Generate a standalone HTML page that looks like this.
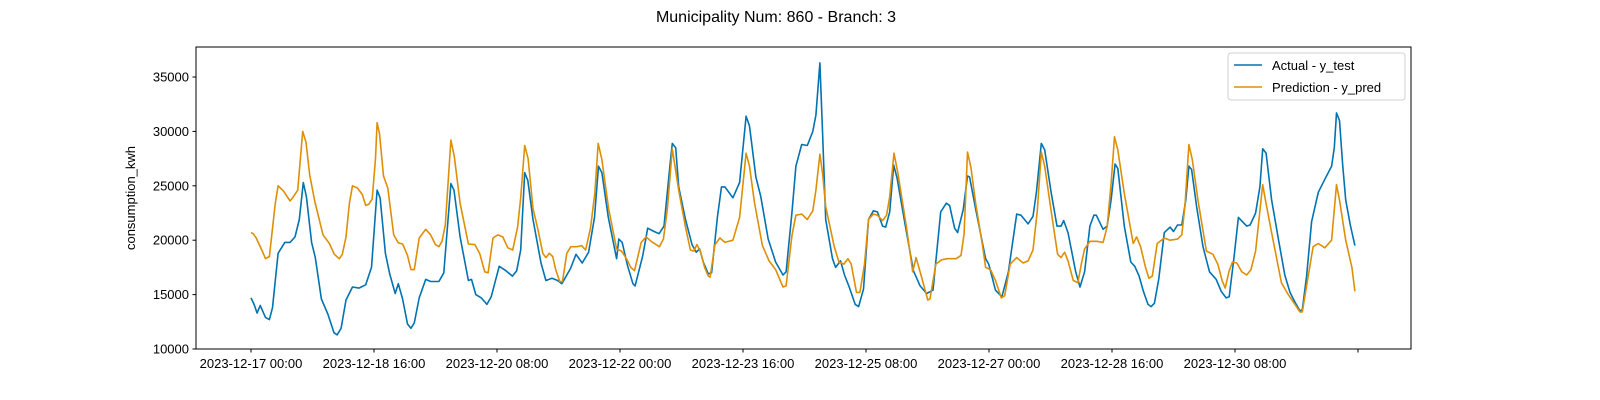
<!DOCTYPE html>
<html>
<head>
<meta charset="utf-8">
<style>
  html,body{margin:0;padding:0;background:#fff;overflow:hidden;width:1600px;height:400px;}
  svg{display:block;font-family:"Liberation Sans","DejaVu Sans",sans-serif;}
</style>
</head>
<body>
<svg id="chart" width="1600" height="400" viewBox="0 0 1600 400">
  <rect x="0" y="0" width="1600" height="400" fill="#ffffff"/>
  <text x="776" y="22" text-anchor="middle" font-size="16" fill="#000">Municipality Num: 860 - Branch: 3</text>
  <g id="ticks"></g>
  <g id="plot"></g>
  <rect x="196" y="47" width="1215" height="302" fill="none" stroke="#000" stroke-width="1"/>
  <text transform="translate(135,198) rotate(-90)" text-anchor="middle" font-size="13" fill="#000">consumption_kwh</text>
  <g>
    <rect x="1228" y="53" width="177" height="47" rx="3" fill="#fff" stroke="#d0d0d0" stroke-width="1"/>
    <line x1="1234" y1="65" x2="1262" y2="65" stroke="#0173b2" stroke-width="1.6"/>
    <text x="1272" y="70" font-size="13" fill="#000">Actual - y_test</text>
    <line x1="1234" y1="87" x2="1262" y2="87" stroke="#de8f05" stroke-width="1.6"/>
    <text x="1272" y="92" font-size="13" fill="#000">Prediction - y_pred</text>
  </g>
</svg>
<script>
const yTicks = [10000, 15000, 20000, 25000, 30000, 35000];
const xTickHours = [0, 40, 80, 120, 160, 200, 240, 280, 320, 360];
const xTickLabels = ["2023-12-17 00:00","2023-12-18 16:00","2023-12-20 08:00","2023-12-22 00:00","2023-12-23 16:00","2023-12-25 08:00","2023-12-27 00:00","2023-12-28 16:00","2023-12-30 08:00",""];

const actHours = [0,1,2,3,4.7,6,7,8.8,11,12.7,14.3,15.7,17,18,19.7,20.9,22.9,25,27,28,29.3,30.9,33,35.1,37.3,39.2,41,42,43.7,45.1,46.9,47.9,49.3,50.9,52,53.1,54.7,56.8,58.4,61.1,62.7,65,66,68,70.7,71.7,73.1,74.9,76.7,78.1,80.7,82.9,85,86.4,87.7,89,90,91.7,94.3,95.9,97.9,99.7,101.1,103.9,105.7,107.7,109.8,111.7,113,114.1,116.2,118.9,119.6,120.7,122.4,124.2,124.9,127.4,129,131.1,132.7,134.3,136.3,137,138.1,139.1,141.3,143.4,144.8,145.9,147.1,148.7,149.8,151.7,153,154.1,156.7,158.9,161,162.1,164.2,165.8,168.2,170.6,173,174,175.9,177.2,179.1,180.9,182.7,183.7,185,185.9,186.9,189.1,190.1,191.7,193,194.4,196.5,197.6,199.2,200.8,202.4,203.7,205.4,206.4,207.7,209,210.1,212.8,215.4,217.6,219.7,221.8,224.3,226.1,227.2,228.8,229.8,231.6,233,233.7,235.7,238.9,239.9,242.1,244.2,246.3,249,250.4,252.7,254.3,255.4,257,258.1,260.2,262.1,263.4,264.3,265.7,268.2,269.6,271.1,272.8,274.1,274.9,277.1,278.4,279.7,281,281.9,284,286.1,287.4,288.8,290.2,291.7,292.7,293.8,295.2,297,298.9,300,301.3,302.7,304,305,305.9,307.5,309.6,311.7,313.9,315.5,317.1,318.1,319.7,321.1,323.8,324.9,326.7,328.1,329,330.1,331.9,334.1,336.2,337.9,339.5,341.1,341.9,343.3,344.9,347.1,349.2,351.4,352.3,353,354,355,356,357.5,359];
const actValues = [14700,14100,13300,14000,12900,12700,13800,18800,19800,19800,20300,21900,25300,24000,19800,18400,14600,13200,11500,11300,11900,14500,15700,15600,15900,17500,24600,23900,18800,16900,15100,16000,14600,12300,11900,12400,14700,16400,16200,16200,17000,25200,24600,20300,16300,16400,15000,14700,14100,14800,17600,17200,16700,17200,19100,26200,25500,21900,17900,16300,16500,16300,16000,17400,18700,17900,18900,22100,26800,26200,22100,18300,20100,19800,17700,16000,15800,18600,21100,20800,20600,21300,27000,28900,28500,24900,21900,19600,18900,19200,18000,16900,17000,22200,24900,24900,23900,25300,31400,30500,25800,24000,20100,18000,16800,17100,22500,26800,28800,28700,30000,31500,36300,29800,21900,18300,17500,18100,16800,15800,14100,13900,15500,21900,22700,22600,21300,21200,22600,26900,25700,21300,17200,15800,15100,15400,22600,23400,23200,21100,20700,22800,25900,25800,22800,18300,17800,15400,14800,17100,22400,22300,21500,22200,24400,28900,28300,24400,21300,21300,21800,20700,17100,15700,17100,21300,22300,22300,21000,21300,23700,27000,26600,21300,18000,17600,16700,15300,14100,13900,14200,16400,20700,21200,20800,21400,21400,23700,26800,26500,23100,19400,17100,16400,15300,14700,14800,18500,22100,21300,21400,22500,24900,28400,28000,23700,20100,16800,15200,14300,13500,13600,16700,21700,24400,25600,26800,28500,31700,31000,27000,23700,21400,19500];

const predHours = [0,0.7,1.7,3.5,4.7,6,7.9,8.8,10.6,12.7,13.8,15.2,16.8,17.9,19.1,20.7,23.4,25.5,27.1,28.7,29.7,30.9,32,33,34.6,36.2,37.3,38.3,39.4,40.5,41,41.8,43.1,44.5,46.4,47.9,49.3,50.9,52,53.1,54.7,56.8,58.4,60,61.1,62.1,63.2,65,66.1,68,70.7,72.8,74.4,76,77.1,78.7,80.3,81.9,83.5,85.1,86.7,87.7,89,90.1,91.7,93.3,94.9,95.9,97,98.1,99.1,100.4,101.3,102.7,104,106.1,107.5,108.8,110.4,111.8,112.9,114.1,116.3,118.9,120.5,122.1,123.5,124.7,126.9,128.5,130.1,132.8,134.1,135.4,137,139.1,141.3,142.9,144,145,146.1,147.5,148.7,149.3,150.9,152.5,154.1,156.7,158.9,161,162.1,163.7,166.3,168.5,170.6,173,174,175.9,177.2,179.1,180.9,182.7,183.7,185,185.9,186.9,189.6,191.2,192.8,194.1,195.2,196.9,198,199.5,200.8,202.4,203.7,205.4,206.7,207.7,209.1,210.4,213.1,215.2,216.3,217.9,220.1,220.8,222.7,224.6,226.4,229.3,230.9,231.9,233,234.1,235.7,237.8,238.9,240.5,242.1,244,245.1,246.9,249,251.1,252.7,254.3,255.7,257,258.1,260.2,262.3,263.4,264.6,265.7,267.4,268.9,270,271.1,272.8,275.1,277.1,278.4,279.7,280.8,281.9,284,286.9,288,289.3,290.9,292,293.1,294.7,297,298.9,301.3,302.7,303.7,305,306.1,308,310.7,312.8,314.4,315.8,316.8,318.1,319.2,320.6,322.2,323.8,325.2,326.7,329,329.9,331.9,335.1,337.3,339.5,341.1,341.9,343.3,345.4,347.1,349.2,351.4,353,354,356,358,359];
const predValues = [20700,20600,20200,19100,18300,18500,23400,25000,24500,23600,24000,24600,30000,29000,26000,23600,20500,19700,18700,18300,18700,20300,23400,25000,24800,24200,23200,23300,23800,27500,30800,29800,25900,24800,20500,19750,19650,18600,17300,17300,20200,21000,20500,19600,19400,19900,21400,29200,27700,23400,19650,19600,18750,17100,17000,20200,20500,20300,19300,19100,21200,23900,28700,27500,22900,21000,18800,18400,18800,18500,17300,16200,16200,18800,19400,19400,19500,19100,21100,24300,28900,27400,22900,19200,19000,18300,17500,17200,19800,20300,19900,19400,20100,22900,28400,24600,21200,19100,19000,19600,19000,17500,16700,16600,19600,20200,19800,20000,22100,28000,26800,23500,19500,18100,17300,15700,15800,20400,22300,22400,21900,22700,24600,27900,26100,23100,19500,18000,17800,18300,17800,15200,15200,17800,21900,22400,22300,21800,22300,24000,28000,26100,21300,17100,18400,16800,14500,14600,17800,18200,18300,18300,18600,20600,28100,26700,23300,19700,17500,17300,16300,14700,14900,17800,18400,17900,18100,19100,22700,28100,26800,22700,18700,18400,18900,18100,16300,16100,17800,19200,19900,19900,19800,21200,25200,29500,28300,24300,19700,20300,19400,17500,16500,16700,19700,20200,20000,20100,20500,23100,28800,27400,23600,19000,18700,17800,16300,15600,17200,18000,17900,17100,16800,17300,19000,25100,23700,20700,16100,15000,14100,13400,13400,15800,19400,19700,19300,20000,25100,23700,20000,17500,15300];

const X0 = 251, PXH = 3.075, Y0 = 349, PXV = 54.4 / 5000;
function xScale(h){ return X0 + h * PXH; }
function yScale(v){ return Y0 - (v - 10000) * PXV; }

const NS = "http://www.w3.org/2000/svg";
const ticksG = document.getElementById('ticks');
const plotG = document.getElementById('plot');

yTicks.forEach(function(v){
  const y = yScale(v);
  const t = document.createElementNS(NS, 'line');
  t.setAttribute('x1', 192.5); t.setAttribute('x2', 196); t.setAttribute('y1', y); t.setAttribute('y2', y);
  t.setAttribute('stroke', '#000');
  
  
  ticksG.appendChild(t);
  const l = document.createElementNS(NS, 'text');
  l.setAttribute('x', 189); l.setAttribute('y', y + 4.5);
  l.setAttribute('text-anchor', 'end'); l.setAttribute('font-size', '13');
  l.textContent = String(v);
  
  
  ticksG.appendChild(l);
});

xTickHours.forEach(function(h, i){
  const x = xScale(h);
  const t = document.createElementNS(NS, 'line');
  t.setAttribute('x1', x); t.setAttribute('x2', x); t.setAttribute('y1', 349); t.setAttribute('y2', 352.5);
  t.setAttribute('stroke', '#000');
  
  
  ticksG.appendChild(t);
  if (xTickLabels[i]) {
    const l = document.createElementNS(NS, 'text');
    l.setAttribute('x', x); l.setAttribute('y', 368);
    l.setAttribute('text-anchor', 'middle'); l.setAttribute('font-size', '13');
    l.textContent = xTickLabels[i];
    
    
    ticksG.appendChild(l);
  }
});

function drawLine(hours, values, color, name){
  const pts = hours.map(function(h, i){ return xScale(h).toFixed(1) + ',' + yScale(values[i]).toFixed(1); }).join(' ');
  const p = document.createElementNS(NS, 'polyline');
  p.setAttribute('points', pts);
  p.setAttribute('fill', 'none');
  p.setAttribute('stroke', color);
  p.setAttribute('stroke-width', '1.6');
  p.setAttribute('stroke-linejoin', 'round');
  
  
  plotG.appendChild(p);
}
drawLine(actHours, actValues, '#0173b2', 'actual-line');
drawLine(predHours, predValues, '#de8f05', 'prediction-line');
</script>
</body>
</html>
